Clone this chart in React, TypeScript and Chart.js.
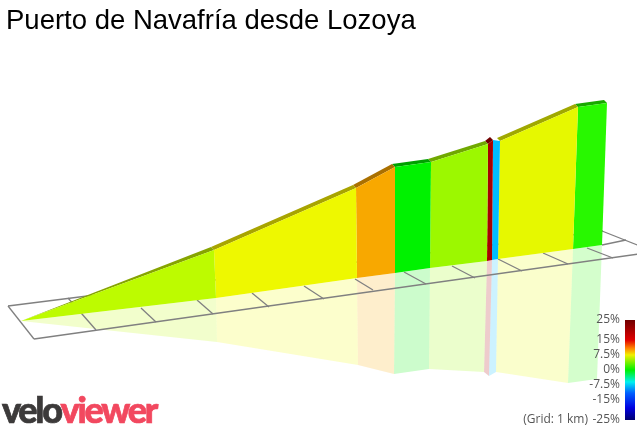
import React, { useEffect, useRef } from 'react';
import { Chart, registerables } from 'chart.js';

Chart.register(...registerables);

const titleText = 'Puerto de Navafría desde Lozoya';

// wall of the climb (one entry per gradient change)
const baseX = [21, 216, 357, 395, 430, 487, 492, 498, 573, 602];
const baseY = [321, 298, 278, 273, 268, 261, 260, 259, 249, 245];
const topX = [21, 214, 356, 395, 431, 488, 493, 500, 578, 607];
const topY = [321, 250, 188, 167, 162, 144, 140, 141, 107, 103];
const edgeDepth = [0, 3, 3, 3, 3, 3, 3, 3, 3, 3];
const mirrorX = [21, 217, 358, 394, 429, 484, 489, 496, 568, 597];
const mirrorY = [321, 342, 365, 374, 369, 372, 376, 372, 383, 379];

// colour of each section
const wallColors = ['#bdfb00', '#eef800', '#f8a800', '#00f200', '#9cf800', '#a80000', '#00bcff', '#e6f800', '#28f800'];
const edgeColors = ['#86a400', '#a8a400', '#aa7000', '#00a000', '#70a800', '#700000', 'transparent', '#a0a800', '#18a800'];

// ground grid
const gridLongX = [[8, 603], [602, 626], [34, 660]];
const gridLongY = [[306, 231], [245, 240], [339, 251]];
const crossStartX = [8, 68, 141, 197, 252, 304, 355, 404, 452, 498, 543, 587, 602];
const crossStartY = [306, 298, 308, 300, 293, 286, 279, 272, 266, 259, 253, 248, 231];
const crossEndX = [34, 96, 156, 213, 269, 324, 373, 426, 475, 522, 568, 613, 650];
const crossEndY = [339, 330, 322, 314, 307, 299, 290, 284, 278, 271, 264, 258, 250];

// colour scale
const scaleLabels = ['25%', '15%', '7.5%', '0%', '-7.5%', '-15%', '-25%'];
const scaleLabelY = [319, 339, 354, 369, 384, 399, 419];
const scaleStops = ['#700000', '#e00000', '#ff8000', '#f0f000', '#00f000', '#00f0f0', '#0060ff', '#0000e0', '#000070'];
const scaleOffsets = [0, 0.2, 0.28, 0.35, 0.5, 0.62, 0.73, 0.88, 1];

const poly = (xs: number[], ys: number[]) => xs.map((x, i) => ({ x, y: ys[i] }));

const shape = (xs: number[], ys: number[], color: any) => ({
  type: 'scatter' as const,
  data: poly(xs, ys),
  showLine: true,
  fill: 'shape',
  backgroundColor: color,
  borderColor: 'transparent',
  borderWidth: 0,
  pointRadius: 0,
  tension: 0,
});

const gridLine = (xs: number[], ys: number[]) => ({
  type: 'scatter' as const,
  data: poly(xs, ys),
  showLine: true,
  fill: false,
  borderColor: '#808080',
  borderWidth: 1.3,
  pointRadius: 0,
});

const toMirrorColor = (hex: string) => {
  const n = parseInt(hex.slice(1), 16);
  return `rgba(${n >> 16},${(n >> 8) & 255},${n & 255},0.2)`;
};

// text on the canvas: title, colour scale labels and the logo
const textPlugin = {
  id: 'pictureText',
  afterDatasetsDraw(chart: Chart) {
    const { ctx, scales } = chart;
    const px = (v: number) => scales.x.getPixelForValue(v);
    const py = (v: number) => scales.y.getPixelForValue(v);
    ctx.save();
    ctx.textBaseline = 'alphabetic';
    ctx.textAlign = 'left';
    ctx.fillStyle = '#000';
    ctx.font = '27.5px "Liberation Sans"';
    ctx.fillText(titleText, px(6), py(29));

    ctx.fillStyle = '#555';
    ctx.font = '12px "Open Sans"';
    ctx.textAlign = 'right';
    scaleLabels.forEach((t, i) => ctx.fillText(t, px(620), py(scaleLabelY[i] + 4)));
    ctx.fillText('(Grid: 1 km)', px(588), py(423));

    ctx.textAlign = 'left';
    ctx.font = '900 36px Lato';
    (ctx as any).letterSpacing = '-2.3px';
    ctx.lineWidth = 0.7;
    ctx.fillStyle = ctx.strokeStyle = '#3c3a3a';
    ctx.fillText('velo', px(2), py(423));
    ctx.strokeText('velo', px(2), py(423));
    const w = ctx.measureText('velo').width;
    ctx.fillStyle = ctx.strokeStyle = '#f2485f';
    ctx.fillText('viewer', px(2) + w, py(423));
    ctx.strokeText('viewer', px(2) + w, py(423));
    ctx.restore();
  },
};

export default function App() {
  const canvasRef = useRef<HTMLCanvasElement>(null);

  useEffect(() => {
    document.body.style.margin = '0';
    const canvas = canvasRef.current;
    if (!canvas) return;
    const ctx = canvas.getContext('2d');
    if (!ctx) return;

    const gradient = ctx.createLinearGradient(0, 320, 0, 420);
    scaleStops.forEach((c, i) => gradient.addColorStop(scaleOffsets[i], c));

    const datasets: any[] = [];
    // walls come first in the array so they paint on top of grid and mirror
    for (let i = 0; i < wallColors.length; i++) {
      datasets.push(shape(
        [baseX[i], baseX[i + 1], topX[i + 1], topX[i]],
        [baseY[i], baseY[i + 1], topY[i + 1], topY[i]],
        wallColors[i],
      ));
      datasets.push(shape(
        [topX[i], topX[i + 1], topX[i + 1] - edgeDepth[i + 1], topX[i] - edgeDepth[i]],
        [topY[i], topY[i + 1], topY[i + 1] - edgeDepth[i + 1], topY[i] - edgeDepth[i]],
        edgeColors[i],
      ));
    }
    datasets.push(shape([625, 635, 635, 625], [320, 320, 420, 420], gradient));
    gridLongX.forEach((xs, i) => datasets.push(gridLine(xs, gridLongY[i])));
    crossStartX.forEach((x, i) => datasets.push(gridLine([x, crossEndX[i]], [crossStartY[i], crossEndY[i]])));
    for (let i = 0; i < wallColors.length; i++) {
      datasets.push(shape(
        [baseX[i], baseX[i + 1], mirrorX[i + 1], mirrorX[i]],
        [baseY[i], baseY[i + 1], mirrorY[i + 1], mirrorY[i]],
        toMirrorColor(wallColors[i]),
      ));
    }

    const chart = new Chart(ctx, {
      type: 'scatter',
      data: { datasets },
      options: {
        animation: false,
        responsive: false,
        layout: { padding: 0 },
        plugins: { legend: { display: false }, tooltip: { enabled: false }, title: { display: false } },
        scales: {
          x: { type: 'linear', display: false, min: 0, max: 637 },
          y: { type: 'linear', display: false, min: 0, max: 427, reverse: true },
        },
      },
      plugins: [textPlugin],
    });

    return () => chart.destroy();
  }, []);

  return <canvas ref={canvasRef} width={637} height={427} style={{ display: 'block' }} />;
}
